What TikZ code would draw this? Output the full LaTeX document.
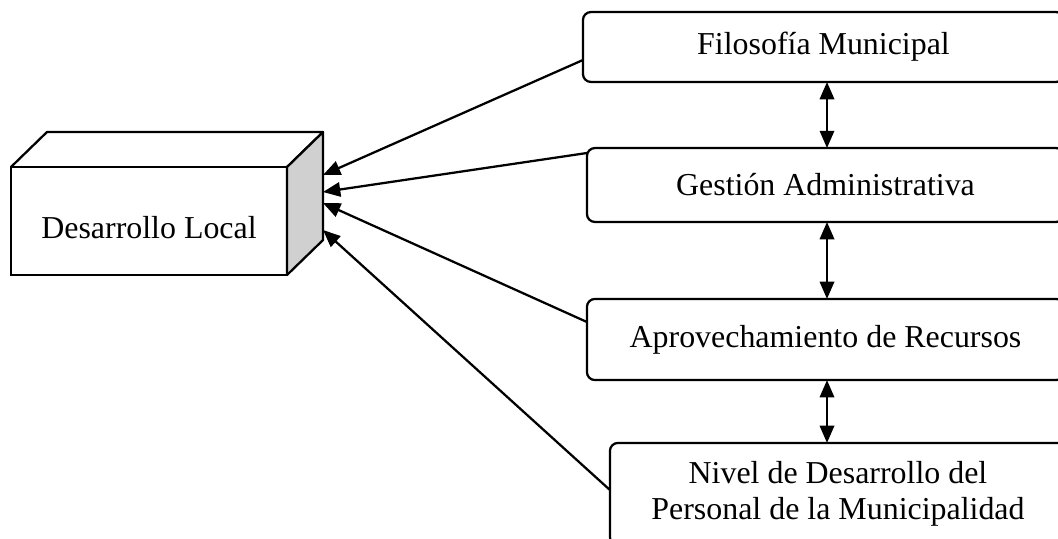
\documentclass[tikz,border=0pt]{standalone}
\usepackage{fontspec}
\setmainfont{Liberation Serif}
\usetikzlibrary{arrows.meta,calc}
\definecolor{sidegrey}{HTML}{D0D0D0}
\tikzset{
  rbox/.style={rectangle, rounded corners=3pt, draw=black, line width=0.85pt,
               align=center, inner sep=0pt, outer sep=0pt,
               font=\fontsize{12}{13.4}\selectfont},
  cube/.style={rectangle, draw=black, line width=0.85pt, inner sep=0pt, outer sep=0pt},
  ar/.style={-{Triangle[length=6.5pt,width=5.4pt]}, line width=0.85pt},
  dar/.style={{Triangle[length=6.5pt,width=5.4pt]}-{Triangle[length=6.5pt,width=5.4pt]}, line width=0.85pt},
}

\begin{document}
\begin{tikzpicture}[x=0.376pt, y=-0.376pt]
  \useasboundingbox (0,0) rectangle (1058,538);
  \clip (0,0) rectangle (1058,538);

  % cube
  \node[cube, minimum width=103.8pt, minimum height=40.6pt] (dl) at (149,221) {};
  \draw[line width=0.85pt, line join=round] (dl.north west) -- ++(36,-35) -- ++(276,0) -- (dl.north east);
  \draw[line width=0.85pt, line join=round, fill=sidegrey] (dl.north east) -- ++(36,-35) -- ++(0,108) -- (dl.south east) -- cycle;
  \node[font=\fontsize{12}{14}\selectfont] (dlt) at ($(dl.center)+(0,7)$) {Desarrollo Local};

  % factores
  \node[rbox, minimum width=180.9pt, minimum height=26.3pt] (b1) at (823.5,47) {Filosofía Municipal};
  \node[rbox, minimum width=179.4pt, minimum height=27.8pt] (b2) at (825.5,185) {Gestión Administrativa};
  \node[rbox, minimum width=179.4pt, minimum height=30.5pt] (b3) at (825.5,339.5) {Aprovechamiento de Recursos};
  \node[rbox, minimum width=171.5pt, minimum height=38.4pt] (b4) at (838,494) {Nivel de Desarrollo del\\Personal de la Municipalidad};

  \coordinate (ax) at (827,0);
  \coordinate (t1) at (323,175);
  \coordinate (t2) at (323,192);
  \coordinate (t3) at (323,203);
  \coordinate (t4) at (323,230);

  \draw[ar] (b1.west |- 0,60) -- (t1);
  \draw[ar] (b2.west |- 0,153) -- (t2);
  \draw[ar] (b3.west |- 0,322) -- (t3);
  \draw[ar] (b4.west |- 0,490) -- (t4);

  \draw[dar] (b1.south -| ax) -- (b2.north -| ax);
  \draw[dar] (b2.south -| ax) -- (b3.north -| ax);
  \draw[dar] (b3.south -| ax) -- (b4.north -| ax);
\end{tikzpicture}
\end{document}
